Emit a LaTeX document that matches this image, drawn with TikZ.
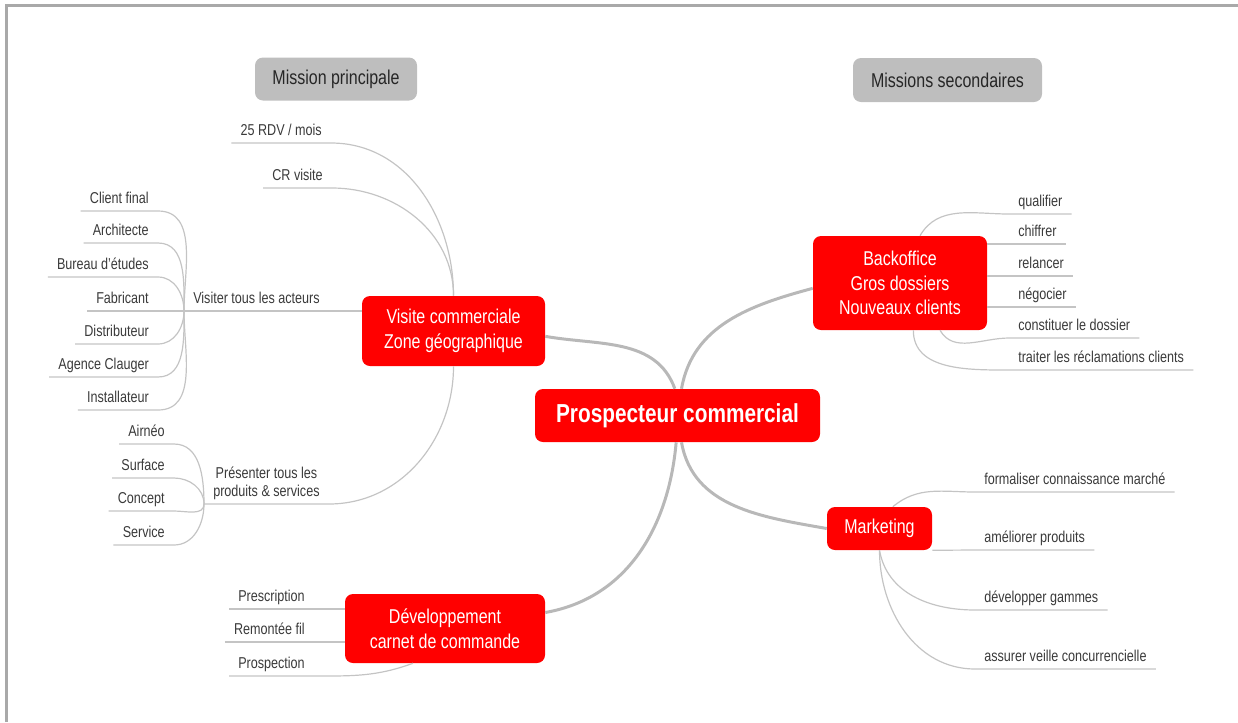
\documentclass[tikz,border=0pt]{standalone}
\usepackage{fontspec}
\setmainfont{Liberation Sans}[FakeStretch=0.8]
\usepackage{xcolor}
\definecolor{mapred}{HTML}{FF0000}
\definecolor{mapgray}{HTML}{BEBEBE}
\definecolor{linkgray}{HTML}{B8B8B8}
\definecolor{twiggray}{HTML}{C4C4C4}
\definecolor{leafgray}{HTML}{3A3A3A}
\definecolor{framegray}{HTML}{A9A9A9}

\begin{document}
\begin{tikzpicture}[x=0.75pt, y=0.75pt,
  header/.style={rounded corners=6pt, fill=mapgray, text=black!85,
    font=\fontsize{15}{18}\selectfont},
  topic/.style={rounded corners=6pt, fill=mapred, text=white, align=center,
    inner sep=2pt, font=\fontsize{15}{18.5}\selectfont},
  leaf/.style={inner xsep=6.75pt, inner ysep=0pt, text height=8.5pt,
    text depth=5.25pt, text=leafgray, font=\fontsize{11.8}{13.5}\selectfont},
  trunk/.style={draw=linkgray, line width=2.25pt},
  twig/.style={draw=twiggray, line width=0.9pt}
]
  \useasboundingbox (0,0) rectangle (1238,-722);
  \draw[framegray, line width=2.25pt] (6,-722) -- (6,-5) -- (1238,-5);

  % Headers
  \node[header, minimum width=121.5pt, minimum height=32.25pt] (mainp) at (336,-79) {Mission principale};
  \node[header, minimum width=141.75pt, minimum height=33pt] (secp) at (947.5,-80) {Missions secondaires};

  % Main topics
  \node[topic, minimum width=213.75pt, minimum height=39.75pt,
    font=\fontsize{19.5}{22}\selectfont\bfseries] (prosp) at (677.5,-415.5) {Prospecteur commercial};
  \node[topic, minimum width=137.25pt, minimum height=52.5pt] (visite) at (453.5,-331) {Visite commerciale\\Zone géographique};
  \node[topic, minimum width=130.5pt, minimum height=70.5pt] (backoff) at (900,-283) {Backoffice\\Gros dossiers\\Nouveaux clients};
  \node[topic, minimum width=78.75pt, minimum height=32.25pt] (mkt) at (879.5,-528.5) {Marketing};
  \node[topic, minimum width=150pt, minimum height=51.75pt] (devel) at (445,-628.5) {Développement\\carnet de commande};

  \draw[trunk] ([xshift=-2pt]prosp.north) to[out=110,in=-10] ([yshift=-4pt]visite.east);
  \draw[trunk] ([xshift=3pt]prosp.north) to[out=80,in=195] ([yshift=-4pt]backoff.west);
  \draw[trunk] ([xshift=3pt]prosp.south) to[out=-80,in=170] (mkt.west);
  \draw[trunk] ([xshift=-1pt]prosp.south) to[out=-95,in=10] ([yshift=12pt]devel.east);

  % Visite commerciale
  \node[leaf, anchor=south east] (rdv) at (331,-143) {25 RDV / mois};
  \node[leaf, anchor=south east] (crv) at (332,-188) {CR visite};
  \draw[twig] (rdv.south west) -- (rdv.south east) to[out=0,in=90] (visite.north);
  \draw[twig] (crv.south west) -- (crv.south east) to[out=0,in=90] (visite.north);

  \node[leaf, anchor=south west] (acteurs) at (184,-311) {Visiter tous les acteurs};
  \draw[twig] (acteurs.south west) -- (acteurs.south west -| visite.west);
  \node[leaf, anchor=south east] (client) at (158,-211) {Client final};
  \node[leaf, anchor=south east] (archi) at (158,-243) {Architecte};
  \node[leaf, anchor=south east] (bureau) at (158,-277) {Bureau d'études};
  \node[leaf, anchor=south east] (fabric) at (158,-311) {Fabricant};
  \node[leaf, anchor=south east] (distrib) at (158,-344) {Distributeur};
  \node[leaf, anchor=south east] (agence) at (158,-377) {Agence Clauger};
  \node[leaf, anchor=south east] (install) at (158,-410) {Installateur};
  \draw[twig] (client.south west) -- (client.south east) to[out=0,in=90] (acteurs.south west);
  \draw[twig] (archi.south west) -- (archi.south east) to[out=0,in=90] (acteurs.south west);
  \draw[twig] (bureau.south west) -- (bureau.south east) to[out=0,in=90] (acteurs.south west);
  \draw[twig] (fabric.south west) -- (acteurs.south west);
  \draw[twig] (distrib.south west) -- (distrib.south east) to[out=0,in=-90] (acteurs.south west);
  \draw[twig] (agence.south west) -- (agence.south east) to[out=0,in=-90] (acteurs.south west);
  \draw[twig] (install.south west) -- (install.south east) to[out=0,in=-90] (acteurs.south west);

  \node[leaf, anchor=south west, align=center] (presente) at (204,-504) {Présenter tous les\\produits \& services};
  \draw[twig] (presente.south west) -- (presente.south east) to[out=0,in=-90] (visite.south);
  \node[leaf, anchor=south east] (airneo) at (174,-444) {Airnéo};
  \node[leaf, anchor=south east] (surface) at (174,-478) {Surface};
  \node[leaf, anchor=south east] (concept) at (174,-511) {Concept};
  \node[leaf, anchor=south east] (service) at (174,-545) {Service};
  \draw[twig] (airneo.south west) -- (airneo.south east) to[out=0,in=90] (presente.south west);
  \draw[twig] (surface.south west) -- (surface.south east) to[out=0,in=90] (presente.south west);
  \draw[twig] (concept.south west) -- (concept.south east) to[out=0,in=-90] (presente.south west);
  \draw[twig] (service.south west) -- (service.south east) to[out=0,in=-90] (presente.south west);

  % Developpement
  \node[leaf, anchor=south east] (prescr) at (314,-609) {Prescription};
  \node[leaf, anchor=south east] (remont) at (314,-642) {Remontée fil};
  \node[leaf, anchor=south east] (prospec) at (314,-676) {Prospection};
  \draw[twig] (prescr.south west) -- (prescr.south -| devel.west);
  \draw[twig] (remont.south west) -- (remont.south -| devel.west);
  \draw[twig] (prospec.south west) -- (prospec.south east) to[out=0,in=200] ([xshift=-24pt]devel.south);

  % Backoffice
  \node[leaf, anchor=south west] (qualif) at (1009,-214) {qualifier};
  \node[leaf, anchor=south west] (chiffr) at (1009,-244) {chiffrer};
  \node[leaf, anchor=south west] (relanc) at (1009,-276) {relancer};
  \node[leaf, anchor=south west] (negoc) at (1009,-307) {négocier};
  \node[leaf, anchor=south west] (constit) at (1009,-338) {constituer le dossier};
  \node[leaf, anchor=south west] (traiter) at (1009,-370) {traiter les réclamations clients};
  \draw[twig] ([xshift=15pt]backoff.north) to[out=60,in=180] (qualif.south west) -- (qualif.south east);
  \draw[twig] (chiffr.south -| backoff.east) -- (chiffr.south east);
  \draw[twig] (relanc.south -| backoff.east) -- (relanc.south east);
  \draw[twig] (negoc.south -| backoff.east) -- (negoc.south east);
  \draw[twig] ([xshift=30pt]backoff.south) to[out=-60,in=180] (constit.south west) -- (constit.south east);
  \draw[twig] ([xshift=10pt]backoff.south) to[out=-90,in=180] (traiter.south west) -- (traiter.south east);

  % Marketing
  \node[leaf, anchor=south west] (formal) at (975,-492) {formaliser connaissance marché};
  \node[leaf, anchor=south west] (amelio) at (975,-550) {améliorer produits};
  \node[leaf, anchor=south west] (develg) at (975,-610) {développer gammes};
  \node[leaf, anchor=south west] (veille) at (975,-669) {assurer veille concurrencielle};
  \draw[twig] ([xshift=10pt]mkt.north) to[out=40,in=180] (formal.south west) -- (formal.south east);
  \draw[twig] (mkt.south east) -- (amelio.south west) -- (amelio.south east);
  \draw[twig] (mkt.south) to[out=-80,in=180] (develg.south west) -- (develg.south east);
  \draw[twig] (mkt.south) to[out=-90,in=180] (veille.south west) -- (veille.south east);
\end{tikzpicture}
\end{document}
